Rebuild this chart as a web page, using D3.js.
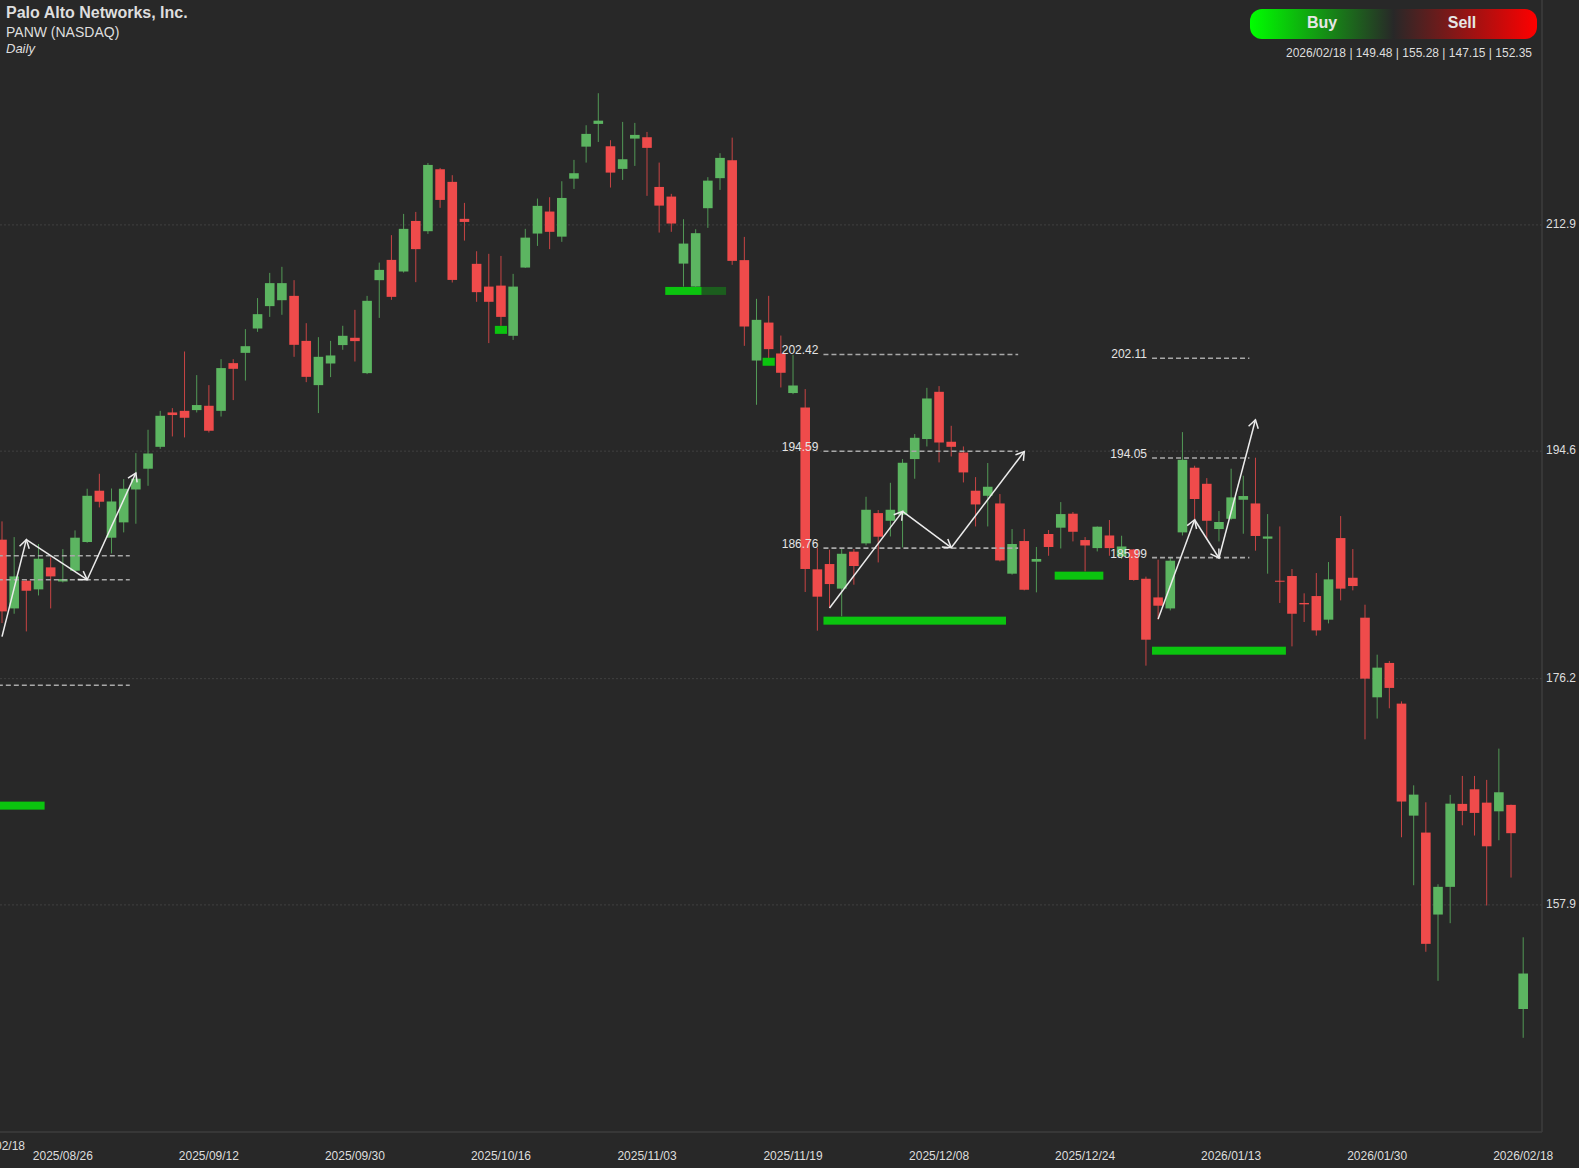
<!DOCTYPE html>
<html>
<head>
<meta charset="utf-8">
<script src="https://d3js.org/d3.v7.min.js"></script>
<style>
  html, body { margin: 0; padding: 0; background: #282828; overflow: hidden; }
  svg { display: block; }
  text { font-family: "Liberation Sans", Arial, sans-serif; }
</style>
</head>
<body>
<svg id="chart" width="1579" height="1168"></svg>
<script>
// Daily bars, oldest first
var opens = [187.44,181.88,184.12,183.42,185.20,184.06,184.93,187.25,191.40,187.60,188.84,191.50,193.18,194.95,197.73,197.86,197.92,198.27,197.86,201.72,
  202.55,204.52,206.33,206.81,207.16,203.52,199.94,201.69,203.18,203.77,200.91,208.43,210.07,209.13,213.22,212.39,217.40,216.38,213.39,209.75,
  207.91,207.99,203.93,209.45,212.20,213.98,211.95,216.64,219.23,221.07,219.26,217.43,219.88,219.99,215.97,215.19,209.77,207.91,214.25,216.68,
  218.13,210.05,201.93,205.00,202.50,199.30,198.13,185.04,185.47,183.48,186.47,187.14,189.59,188.97,189.46,193.96,195.58,199.40,195.36,194.49,
  191.40,190.99,190.37,184.69,187.33,185.66,187.90,188.41,189.54,187.41,186.76,187.78,186.09,186.65,184.28,182.77,181.88,188.03,193.26,191.96,
  188.30,189.13,190.67,190.37,187.52,184.12,184.50,182.32,182.88,180.97,187.57,184.36,181.13,174.69,177.47,174.18,165.12,163.75,157.12,159.36,
  166.07,167.25,166.17,165.47,165.99,149.48];
var highs = [188.92,187.65,184.26,187.09,186.01,186.68,188.19,191.56,192.77,191.58,192.34,194.44,196.33,197.86,198.08,202.66,200.75,199.94,202.04,202.04,
  204.47,206.98,209.02,209.51,208.43,204.95,203.82,203.52,204.74,206.03,207.16,209.85,212.07,213.79,213.95,217.91,217.51,216.92,214.68,210.77,
  210.56,210.39,208.94,212.58,215.03,215.14,216.43,218.16,220.96,223.55,219.75,221.23,221.15,220.42,217.94,215.41,213.36,212.55,216.76,218.70,
  219.96,211.93,206.92,207.16,203.95,202.39,199.62,186.77,186.63,186.68,186.68,190.91,189.84,192.04,193.96,195.98,199.72,199.86,196.65,194.98,
  192.50,193.64,191.13,188.30,188.30,186.85,188.22,190.48,189.68,187.65,188.51,189.03,187.76,186.68,184.45,185.82,185.96,196.14,193.42,192.42,
  189.76,193.18,192.61,194.07,189.51,188.51,185.07,183.10,184.74,185.63,189.35,186.68,182.18,178.14,177.63,174.36,167.57,166.20,159.57,166.80,
  168.33,168.33,168.01,170.54,166.01,155.28];
var lows = [180.70,181.45,180.02,182.93,181.88,183.98,184.87,187.19,190.05,186.33,188.03,188.73,191.80,194.79,195.79,195.71,197.73,196.11,197.40,198.73,
  200.31,204.25,205.46,205.63,202.23,200.18,197.68,200.59,202.80,201.85,200.83,205.38,206.84,209.04,208.27,212.17,214.28,208.24,211.63,206.68,
  203.34,204.74,203.60,209.42,211.20,210.94,211.53,215.81,217.94,219.61,215.92,216.54,217.67,215.25,212.28,212.34,207.91,207.89,212.66,215.73,
  209.67,203.12,198.35,202.13,199.75,199.21,183.21,180.08,181.91,181.24,183.80,186.98,185.60,187.70,186.81,192.37,194.98,193.69,194.17,192.07,
  188.51,188.51,185.68,184.61,183.34,183.18,186.14,186.73,187.30,184.87,186.49,186.14,185.88,184.12,177.25,180.97,181.72,187.78,189.05,187.44,
  187.30,189.05,187.92,186.55,184.69,182.32,178.81,180.78,179.68,180.67,182.53,183.34,171.29,172.97,173.80,163.37,159.49,154.11,151.76,156.42,
  164.34,163.51,157.85,163.13,160.11,147.15];
var closes = [181.64,184.47,183.31,185.90,184.47,184.26,187.60,190.99,190.51,190.53,191.56,192.37,194.41,197.46,197.52,197.30,198.33,196.25,201.32,201.26,
  203.09,205.68,208.19,208.19,203.20,200.61,202.23,202.34,203.93,203.50,206.76,209.26,207.08,212.58,210.94,217.75,214.92,208.45,213.14,207.46,
  206.68,205.46,207.91,211.87,214.44,212.34,215.08,217.08,220.26,221.33,217.13,218.21,220.18,219.13,214.46,213.01,211.39,212.23,216.48,218.32,
  209.99,204.68,205.22,202.85,200.94,199.91,185.07,182.83,183.85,186.30,185.31,189.86,187.68,189.86,193.66,195.68,198.86,195.30,194.95,192.88,
  190.29,191.72,185.76,187.09,183.39,185.88,186.85,189.51,188.08,186.97,188.49,186.76,186.89,184.18,179.35,182.10,185.74,193.90,190.73,188.97,
  188.87,190.86,190.97,187.74,187.70,184.04,181.45,182.21,180.10,184.23,183.48,183.69,176.20,177.09,175.45,166.26,166.82,154.75,159.36,166.09,
  165.50,165.34,162.64,167.01,163.70,152.35];

// Axis ticks
var dateTickIndex = [5,17,29,41,53,65,77,89,101,113,125];
var dateTickLabels = ["2025/08/26","2025/09/12","2025/09/30","2025/10/16","2025/11/03","2025/11/19","2025/12/08","2025/12/24","2026/01/13","2026/01/30","2026/02/18"];
var priceTicks = [212.9,194.6,176.2,157.9];

// Dashed levels: first bar, last bar, price, label
var levelStart = [-1,-1,-1,67.5,67.5,67.5,94.5,94.5,94.5];
var levelEnd   = [10.5,10.5,10.5,83.5,83.5,83.5,102.5,102.5,102.5];
var levelPrice = [186.14,184.20,175.66,202.42,194.59,186.76,202.11,194.05,185.99];
var levelLabel = ["","","","202.42","194.59","186.76","202.11","194.05","185.99"];

// Green zones: first bar, last bar, price
var zoneStart = [-1,40.5,54.5,57.5,62.5,67.5,86.5,94.5];
var zoneEnd   = [3.5,41.5,57.5,59.5,63.5,82.5,90.5,105.5];
var zonePrice = [165.93,204.41,207.56,207.56,201.83,180.89,184.53,178.46];
var zoneFaded = [false,false,false,true,false,false,false,false];

// White zigzag arrows
var arrowBars = [[0,2,7,11],[68,74,78,84],[95,98,100,103]];
var arrowPrices = [[179.60,187.44,184.20,192.83],[181.91,189.73,186.79,194.57],[181.03,189.05,185.96,197.14]];

var svg = d3.select("#chart");
var green = "#5cb561", red = "#ef4b4b", textColor = "#dedede";

var x = d3.scaleLinear().domain([0,125]).range([2,1523.2]);
var y = d3.scaleLinear().domain([157.9,212.9]).range([904.9,224.9]);

// Frame lines
svg.append("line").attr("x1",1542).attr("x2",1542).attr("y1",0).attr("y2",1132).attr("stroke","#3c3c3c").attr("stroke-width",1.5);
svg.append("line").attr("x1",0).attr("x2",1542).attr("y1",1132).attr("y2",1132).attr("stroke","#3c3c3c").attr("stroke-width",1.5);

// Grid
svg.selectAll(".grid").data(priceTicks).enter().append("line")
  .attr("x1",0).attr("x2",1542)
  .attr("y1",d => y(d)).attr("y2",d => y(d))
  .attr("stroke","#404040").attr("stroke-width",1).attr("stroke-dasharray","2 2");

// Axes
var yAxis = d3.axisRight(y).tickValues(priceTicks).tickSize(0).tickPadding(0).tickFormat(d3.format(".1f"));
var yG = svg.append("g").attr("transform","translate(1546,-1)").call(yAxis);
var xAxis = d3.axisBottom(x).tickValues(dateTickIndex).tickSize(0).tickPadding(0).tickFormat((d,i) => dateTickLabels[i]);
var xG = svg.append("g").attr("transform","translate(-0.5,1151)").call(xAxis);
svg.selectAll(".domain").remove();
svg.selectAll(".tick text").attr("fill",textColor).style("font-size","12px").style("font-family",'"Liberation Sans", Arial, sans-serif');

// The date at the far left is cut by the edge
svg.append("text").attr("x",25).attr("y",1150).attr("text-anchor","end")
  .attr("fill",textColor).style("font-size","12px").text("2026/02/18");

// Candles
var bars = d3.range(opens.length);
svg.selectAll(".wick").data(bars).enter().append("line")
  .attr("x1",d => x(d)).attr("x2",d => x(d))
  .attr("y1",d => y(highs[d])).attr("y2",d => y(lows[d]))
  .attr("stroke",d => closes[d] >= opens[d] ? green : red)
  .attr("stroke-width",1).attr("stroke-opacity",0.8);
svg.selectAll(".body").data(bars).enter().append("rect")
  .attr("x",d => x(d) - 4.8).attr("width",9.6)
  .attr("y",d => y(Math.max(opens[d],closes[d])))
  .attr("height",d => Math.max(1,Math.abs(y(opens[d]) - y(closes[d]))))
  .attr("fill",d => closes[d] >= opens[d] ? green : red);

// Green zones
svg.selectAll(".zone").data(zonePrice).enter().append("rect")
  .attr("x",(d,i) => x(zoneStart[i]))
  .attr("width",(d,i) => x(zoneEnd[i]) - x(zoneStart[i]))
  .attr("y",d => y(d) - 4).attr("height",8)
  .attr("fill",(d,i) => zoneFaded[i] ? "#1c5e1e" : "#0bc40f");

// Dashed levels and their labels
svg.selectAll(".level").data(levelPrice).enter().append("line")
  .attr("x1",(d,i) => x(levelStart[i])).attr("x2",(d,i) => x(levelEnd[i]))
  .attr("y1",d => y(d)).attr("y2",d => y(d))
  .attr("stroke","#a8a8a8").attr("stroke-width",1.6).attr("stroke-dasharray","5 3");
svg.selectAll(".levelText").data(levelPrice).enter().append("text")
  .attr("x",(d,i) => x(levelStart[i]) - 5)
  .attr("y",d => y(d))
  .attr("text-anchor","end")
  .attr("fill","#e4e4e4").style("font-size","12px")
  .text((d,i) => levelLabel[i]);

// Arrow head shared by all segments
svg.append("defs").append("marker").attr("id","head")
  .attr("markerUnits","userSpaceOnUse")
  .attr("viewBox","-10 -6 12 12").attr("refX",0).attr("refY",0)
  .attr("markerWidth",12).attr("markerHeight",12).attr("orient","auto")
  .append("path").attr("d","M-8,-5L0,0L-8,5").attr("fill","none").attr("stroke","#ececec").attr("stroke-width",1.5);

arrowBars.forEach((path,n) => {
  d3.pairs(path.map((b,i) => [b,arrowPrices[n][i]])).forEach(pair => {
    svg.append("line")
      .attr("x1",x(pair[0][0])).attr("y1",y(pair[0][1]))
      .attr("x2",x(pair[1][0])).attr("y2",y(pair[1][1]))
      .attr("stroke","#ececec").attr("stroke-width",1.5)
      .attr("marker-end","url(#head)");
  });
});

// Header text
svg.append("text").attr("x",6).attr("y",18).attr("fill",textColor).style("font-size","16px").style("font-weight","bold").text("Palo Alto Networks, Inc.");
svg.append("text").attr("x",6).attr("y",37).attr("fill",textColor).style("font-size","14px").text("PANW (NASDAQ)");
svg.append("text").attr("x",6).attr("y",53).attr("fill",textColor).style("font-size","13px").style("font-style","italic").text("Daily");

// Buy / Sell pill
var grad = svg.select("defs").append("linearGradient").attr("id","pill");
grad.append("stop").attr("offset","0%").attr("stop-color","#00ff00");
grad.append("stop").attr("offset","50%").attr("stop-color","#282828");
grad.append("stop").attr("offset","100%").attr("stop-color","#ff0000");
svg.append("rect").attr("x",1250).attr("y",9).attr("width",287).attr("height",30).attr("rx",12).attr("fill","url(#pill)");
svg.append("text").attr("x",1322).attr("y",28).attr("text-anchor","middle").attr("fill","#e6e6e6").style("font-size","16px").style("font-weight","bold").text("Buy");
svg.append("text").attr("x",1462).attr("y",28).attr("text-anchor","middle").attr("fill","#e6e6e6").style("font-size","16px").style("font-weight","bold").text("Sell");
svg.append("text").attr("x",1532).attr("y",57).attr("text-anchor","end").attr("fill",textColor).style("font-size","12px")
  .text("2026/02/18 | 149.48 | 155.28 | 147.15 | 152.35");
</script>
</body>
</html>
